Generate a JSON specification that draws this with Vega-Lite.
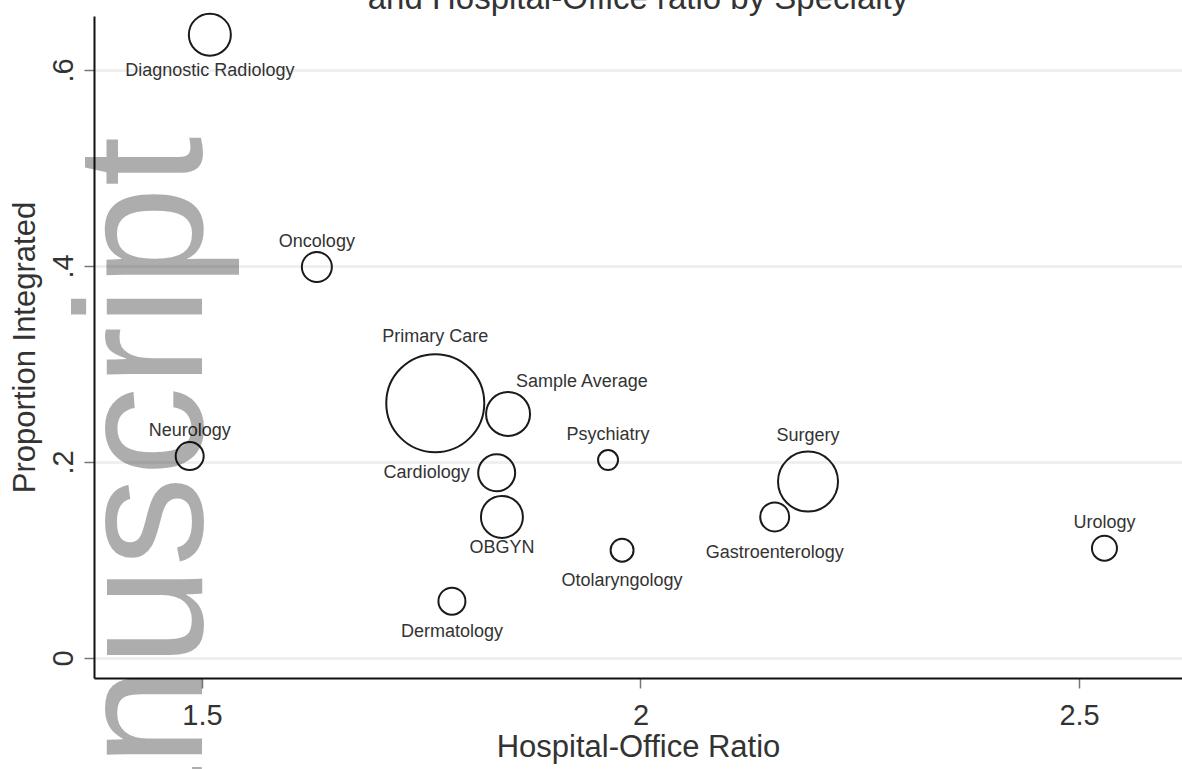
{
  "$schema": "https://vega.github.io/schema/vega-lite/v6.json",
  "width": 1088,
  "height": 662,
  "autosize": {"type": "none"},
  "padding": {"left": 94, "top": 16, "right": 0, "bottom": 91},
  "background": "white",
  "title": {
    "text": "and Hospital-Office ratio by Specialty",
    "font": "Liberation Sans",
    "fontSize": 33,
    "fontWeight": "normal",
    "color": "#333333",
    "anchor": "middle",
    "frame": "group",
    "offset": -6
  },
  "config": {
    "view": {"stroke": null},
    "axis": {
      "domainColor": "#111111",
      "domainWidth": 2,
      "tickColor": "#777777",
      "tickWidth": 1.5,
      "tickSize": 10,
      "labelFont": "Liberation Sans",
      "labelFontSize": 29,
      "labelColor": "#333333",
      "titleFont": "Liberation Sans",
      "titleFontSize": 31,
      "titleFontWeight": "normal",
      "titleColor": "#333333"
    }
  },
  "datasets": {
    "specialties": [
      {"specialty": "Diagnostic Radiology", "ratio": 1.509, "integrated": 0.636, "weight": 4.41},
      {"specialty": "Oncology", "ratio": 1.631, "integrated": 0.399, "weight": 2.25},
      {"specialty": "Primary Care", "ratio": 1.766, "integrated": 0.26, "weight": 24.01},
      {"specialty": "Sample Average", "ratio": 1.849, "integrated": 0.249, "weight": 4.84},
      {"specialty": "Neurology", "ratio": 1.486, "integrated": 0.206, "weight": 1.96},
      {"specialty": "Psychiatry", "ratio": 1.963, "integrated": 0.202, "weight": 1.0},
      {"specialty": "Cardiology", "ratio": 1.836, "integrated": 0.189, "weight": 3.42},
      {"specialty": "OBGYN", "ratio": 1.842, "integrated": 0.144, "weight": 4.41},
      {"specialty": "Surgery", "ratio": 2.191, "integrated": 0.18, "weight": 9.0},
      {"specialty": "Gastroenterology", "ratio": 2.153, "integrated": 0.144, "weight": 2.1},
      {"specialty": "Otolaryngology", "ratio": 1.979, "integrated": 0.11, "weight": 1.32},
      {"specialty": "Urology", "ratio": 2.529, "integrated": 0.112, "weight": 1.56},
      {"specialty": "Dermatology", "ratio": 1.785, "integrated": 0.058, "weight": 1.82}
    ],
    "watermark": [
      {"word": "manuscript", "ratio": 1.5, "integrated": 0.083}
    ]
  },
  "data": {"name": "specialties"},
  "encoding": {
    "x": {
      "field": "ratio",
      "type": "quantitative",
      "title": "Hospital-Office Ratio",
      "scale": {"domain": [1.3769, 2.6174], "nice": false, "zero": false},
      "axis": {
        "values": [1.5, 2, 2.5],
        "format": "~g",
        "grid": false,
        "labelPadding": 13,
        "titlePadding": 2
      }
    },
    "y": {
      "field": "integrated",
      "type": "quantitative",
      "title": "Proportion Integrated",
      "scale": {"domain": [-0.0204, 0.6551], "nice": false, "zero": false},
      "axis": {
        "values": [0, 0.2, 0.4, 0.6],
        "labelExpr": "datum.value == 0 ? '0' : replace(format(datum.value, '.1f'), '0.', '.')",
        "grid": true,
        "gridColor": "#efefef",
        "gridWidth": 3,
        "labelAngle": -90,
        "labelAlign": "center",
        "labelBaseline": "alphabetic",
        "labelPadding": 12,
        "titlePadding": 8
      }
    }
  },
  "layer": [
    {
      "mark": {"type": "point", "shape": "circle", "filled": false, "stroke": "#1a1a1a", "strokeWidth": 2, "opacity": 1},
      "encoding": {
        "size": {"field": "weight", "type": "quantitative", "scale": {"domain": [0, 25], "range": [0, 10000]}, "legend": null}
      }
    },
    {
      "transform": [{"filter": {"field": "specialty", "oneOf": ["OBGYN", "Otolaryngology", "Dermatology"]}}],
      "mark": {"type": "text", "font": "Liberation Sans", "fontSize": 18, "color": "#333333", "align": "center", "baseline": "middle", "dy": 31},
      "encoding": {"text": {"field": "specialty"}}
    },
    {
      "transform": [{"filter": {"field": "specialty", "oneOf": ["Diagnostic Radiology", "Gastroenterology"]}}],
      "mark": {"type": "text", "font": "Liberation Sans", "fontSize": 18, "color": "#333333", "align": "center", "baseline": "middle", "dy": 36},
      "encoding": {"text": {"field": "specialty"}}
    },
    {
      "transform": [{"filter": {"field": "specialty", "oneOf": ["Oncology", "Neurology", "Psychiatry", "Urology"]}}],
      "mark": {"type": "text", "font": "Liberation Sans", "fontSize": 18, "color": "#333333", "align": "center", "baseline": "middle", "dy": -25},
      "encoding": {"text": {"field": "specialty"}}
    },
    {
      "transform": [{"filter": {"field": "specialty", "equal": "Primary Care"}}],
      "mark": {"type": "text", "font": "Liberation Sans", "fontSize": 18, "color": "#333333", "align": "center", "baseline": "middle", "dy": -66},
      "encoding": {"text": {"field": "specialty"}}
    },
    {
      "transform": [{"filter": {"field": "specialty", "equal": "Surgery"}}],
      "mark": {"type": "text", "font": "Liberation Sans", "fontSize": 18, "color": "#333333", "align": "center", "baseline": "middle", "dy": -46},
      "encoding": {"text": {"field": "specialty"}}
    },
    {
      "transform": [{"filter": {"field": "specialty", "equal": "Sample Average"}}],
      "mark": {"type": "text", "font": "Liberation Sans", "fontSize": 18, "color": "#333333", "align": "left", "baseline": "middle", "dx": 8, "dy": -32},
      "encoding": {"text": {"field": "specialty"}}
    },
    {
      "transform": [{"filter": {"field": "specialty", "equal": "Cardiology"}}],
      "mark": {"type": "text", "font": "Liberation Sans", "fontSize": 18, "color": "#333333", "align": "right", "baseline": "middle", "dx": -27},
      "encoding": {"text": {"field": "specialty"}}
    },
    {
      "data": {"name": "watermark"},
      "mark": {"type": "text", "font": "Liberation Sans", "fontSize": 180, "fill": "#000000", "fillOpacity": 0.32, "angle": 270, "align": "center", "baseline": "alphabetic"},
      "encoding": {
        "text": {"field": "word"}
      }
    }
  ]
}
